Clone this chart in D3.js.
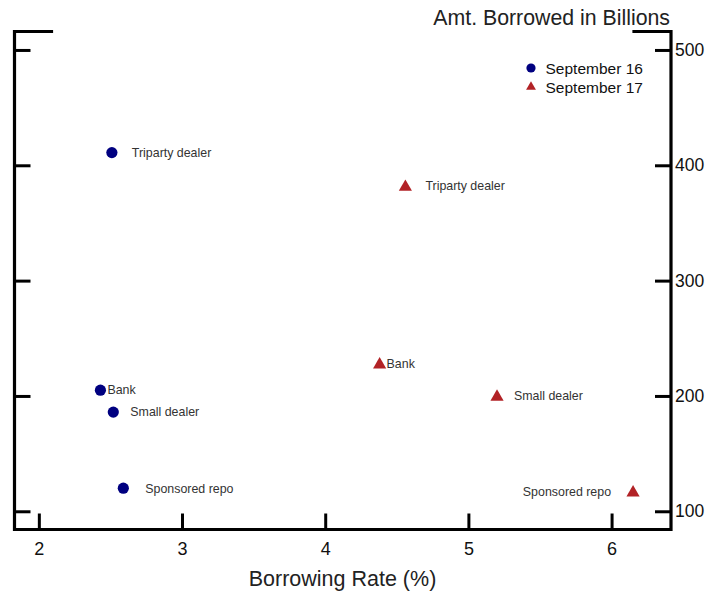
<!DOCTYPE html>
<html>
<head>
<meta charset="utf-8">
<script src="https://cdn.jsdelivr.net/npm/d3@7"></script>
<style>
  html, body { margin: 0; padding: 0; background: #fff; }
  svg { display: block; font-family: "Liberation Sans", Arial, sans-serif; }
</style>
</head>
<body>
<svg id="chart" width="708" height="594"></svg>
<script>
// Borrowing rate (%) and amount borrowed ($bn) by segment, two days
const segments = ["Triparty dealer", "Bank", "Small dealer", "Sponsored repo"];
const sep16Rate = [2.51, 2.43, 2.52, 2.59];
const sep16Amount = [411, 205, 186, 120];
const sep17Rate = [4.56, 4.38, 5.20, 6.15];
const sep17Amount = [382, 228, 200, 117];
const seriesNames = ["September 16", "September 17"];
const xTicks = [2, 3, 4, 5, 6];
const yTicks = [100, 200, 300, 400, 500];

const svg = d3.select("#chart");
const plotLeft = 14.5, plotRight = 671, plotTop = 31.5, plotBottom = 529.5;

const x = d3.scaleLinear().domain([1.83, 6.415]).range([plotLeft, plotRight]);
const y = d3.scaleLinear().domain([84.2, 516]).range([plotBottom, plotTop]);

const navy = "#000080", red = "#b22226";

// Frame: left, bottom and right axes with short top corners
const frame = svg.append("g")
  .attr("fill", "none").attr("stroke", "#000").attr("stroke-width", 3.2)
  .attr("stroke-linecap", "square");
frame.append("path").attr("d",
  `M${plotLeft + 37},${plotTop} H${plotLeft} V${plotBottom} H${plotRight} V${plotTop} H${plotRight - 37}`);

// Inward x ticks
const xAxis = svg.append("g").attr("transform", `translate(0,${plotBottom})`)
  .call(d3.axisBottom(x).tickValues(xTicks).tickFormat(d3.format("d"))
    .tickSizeInner(-16).tickSizeOuter(0).tickPadding(25));
xAxis.select(".domain").remove();
xAxis.selectAll(".tick line").attr("stroke-width", 3);
xAxis.selectAll(".tick text").attr("font-size", 18).attr("fill", "#111").attr("dy", "0");

// Inward y ticks on the left, labelled ticks on the right
const yLeft = svg.append("g").attr("transform", `translate(${plotLeft},0)`)
  .call(d3.axisLeft(y).tickValues(yTicks).tickSizeInner(-16).tickSizeOuter(0).tickFormat(""));
yLeft.select(".domain").remove();
yLeft.selectAll(".tick line").attr("stroke-width", 3);

const yRight = svg.append("g").attr("transform", `translate(${plotRight},0)`)
  .call(d3.axisRight(y).tickValues(yTicks).tickSizeInner(-16).tickSizeOuter(0).tickPadding(4));
yRight.select(".domain").remove();
yRight.selectAll(".tick line").attr("stroke-width", 3);
yRight.selectAll(".tick text").attr("font-size", 17.5).attr("fill", "#111")
  .attr("x", 4);

// Axis titles
svg.append("text").attr("x", 342.5).attr("y", 586)
  .attr("text-anchor", "middle").attr("font-size", 21.5).attr("fill", "#222")
  .text("Borrowing Rate (%)");
svg.append("text").attr("x", 670).attr("y", 25)
  .attr("text-anchor", "end").attr("font-size", 21.3).attr("fill", "#222")
  .text("Amt. Borrowed in Billions");

const tri = d3.symbol().type(d3.symbolTriangle);

// Segment label offsets from each mark (negative = label on the left)
const labelDx16 = [20, 7, 17, 22];
const labelDx17 = [20, 7, 17, -22];

const pts16 = segments.map((s, i) => ({ name: s, rate: sep16Rate[i], amt: sep16Amount[i], dx: labelDx16[i] }));
const pts17 = segments.map((s, i) => ({ name: s, rate: sep17Rate[i], amt: sep17Amount[i], dx: labelDx17[i] }));

svg.append("g").selectAll("circle").data(pts16).join("circle")
  .attr("cx", d => x(d.rate)).attr("cy", d => y(d.amt)).attr("r", 5.6).attr("fill", navy);

svg.append("g").selectAll("path").data(pts17).join("path")
  .attr("d", tri.size(75)())
  .attr("transform", d => `translate(${x(d.rate)},${y(d.amt) + 1})`)
  .attr("fill", red);

const labels = svg.append("g").attr("font-size", 12.4).attr("fill", "#333");
labels.selectAll("text.s16").data(pts16).join("text").attr("class", "s16")
  .attr("x", d => x(d.rate) + d.dx).attr("y", d => y(d.amt) + 4.3)
  .attr("text-anchor", d => d.dx < 0 ? "end" : "start").text(d => d.name);
labels.selectAll("text.s17").data(pts17).join("text").attr("class", "s17")
  .attr("x", d => x(d.rate) + d.dx).attr("y", d => y(d.amt) + 4.3)
  .attr("text-anchor", d => d.dx < 0 ? "end" : "start").text(d => d.name);

// Legend
const leg = svg.append("g").attr("transform", "translate(531,68)");
leg.append("circle").attr("cx", 0).attr("cy", 0).attr("r", 4.6).attr("fill", navy);
leg.append("path").attr("d", tri.size(42)()).attr("transform", "translate(0,19)").attr("fill", red);
leg.selectAll("text").data(seriesNames).join("text")
  .attr("x", 14.5).attr("y", (d, i) => i * 19 + 6)
  .attr("font-size", 15.5).attr("fill", "#111").text(d => d);
</script>
</body>
</html>
